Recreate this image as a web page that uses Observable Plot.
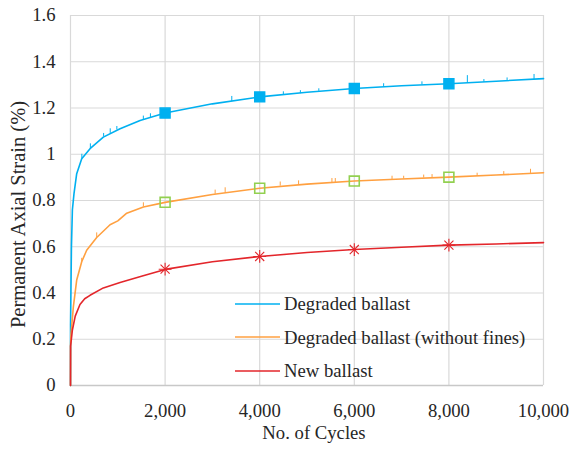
<!DOCTYPE html>
<html>
<head>
<meta charset="utf-8">
<script src="https://cdn.jsdelivr.net/npm/d3@7"></script>
<script src="https://cdn.jsdelivr.net/npm/@observablehq/plot@0.6"></script>
<style>
  html, body { margin: 0; padding: 0; background: #fff; }
  #wrap { position: relative; width: 571px; height: 451px; }
  #legend { position: absolute; left: 235px; top: 287px; font-family: "Liberation Serif", "Times New Roman", serif; font-size: 18.7px; line-height: 33.5px; color: #262626; }
  .row { display: flex; align-items: center; height: 33.5px; white-space: nowrap; }
  .row svg { margin-right: 4px; display: block; }
</style>
</head>
<body>
<div id="wrap"></div>
<script>
// ---- data ----
const xTicks = [0, 2000, 4000, 6000, 8000, 10000];
const yTicks = [0, 0.2, 0.4, 0.6, 0.8, 1, 1.2, 1.4, 1.6];
const seriesNames = ["Degraded ballast", "Degraded ballast (without fines)", "New ballast"];
const seriesColors = ["#00B0F0", "#FFA040", "#E3262B"];

const degraded = [
  [0,0],[1,0.26],[20,0.6],[40,0.76],[74,0.83],[131,0.916],[237,0.981],[413,1.024],[694,1.074],
  [1048,1.11],[1471,1.146],[2000,1.178],[3000,1.218],[4000,1.248],[5000,1.268],[6000,1.284],
  [7000,1.296],[8000,1.305],[9000,1.316],[10000,1.327]
];
const degradedNoFines = [
  [0,0],[1,0.17],[10,0.22],[25,0.254],[60,0.34],[131,0.456],[237,0.535],[342,0.585],[554,0.64],
  [836,0.695],[1000,0.712],[1189,0.745],[1541,0.772],[2000,0.792],[3000,0.826],[4000,0.853],
  [5000,0.871],[6000,0.884],[7000,0.893],[8000,0.901],[9000,0.91],[10000,0.92]
];
const newBallast = [
  [0,0],[2,0.17],[40,0.24],[100,0.3],[200,0.35],[300,0.375],[413,0.39],[694,0.422],[1048,0.445],
  [1500,0.472],[2000,0.502],[3000,0.535],[4000,0.558],[5000,0.575],[6000,0.588],[7000,0.598],
  [8000,0.607],[9000,0.612],[10000,0.618]
];

// marker points
const markerCycles = [2000, 4000, 6000, 8000];
const degradedMarks = [1.178, 1.248, 1.284, 1.305];
const noFinesMarks = [0.792, 0.853, 0.884, 0.901];
const newMarks = [0.503, 0.558, 0.588, 0.607];

// small spikes in the recorded signal: [cycle, base, top]
const degradedSpikes = [
  [240,0.98,1.0],[420,1.025,1.045],[700,1.075,1.09],[840,1.09,1.11],[980,1.105,1.12],
  [1540,1.15,1.165],[1690,1.158,1.175],[3410,1.228,1.25],[4500,1.255,1.27],[4860,1.262,1.275],
  [5250,1.272,1.283],[6620,1.29,1.305],[7430,1.3,1.313],[8390,1.306,1.34],[8740,1.311,1.323],
  [9230,1.317,1.33],[9800,1.322,1.345]
];
const noFinesSpikes = [
  [237,0.535,0.55],[554,0.64,0.66],[1541,0.772,0.79],[3058,0.827,0.845],[3270,0.833,0.855],
  [4434,0.862,0.88],[4822,0.868,0.885],[5527,0.877,0.895],[5598,0.878,0.895],[6798,0.891,0.905],
  [7044,0.893,0.905],[7467,0.897,0.91],[7644,0.898,0.912],[8597,0.906,0.918],[9160,0.911,0.925],
  [9725,0.917,0.935]
];

const toRows = (arr) => arr.map(([x, y]) => ({x, y}));
const spikeRows = (arr) => arr.map(([x, y1, y2]) => ({x, y1, y2}));
const markRows = (vals) => markerCycles.map((x, i) => ({x, y: vals[i]}));

const font = '"Liberation Serif", "Times New Roman", serif';
const ink = "#262626";
const gridColor = "#d9d9d9";

const chart = Plot.plot({
  width: 571,
  height: 451,
  marginLeft: 70,
  marginRight: 28,
  marginTop: 15,
  marginBottom: 66,
  style: {fontFamily: font, fontSize: "18.7px", color: ink, background: "#fff"},
  x: {domain: [0, 10000]},
  y: {domain: [0, 1.6]},
  marks: [
    Plot.gridX(xTicks, {stroke: gridColor, strokeOpacity: 1, strokeWidth: 1.2}),
    Plot.gridY(yTicks, {stroke: gridColor, strokeOpacity: 1, strokeWidth: 1.2}),
    Plot.ruleY([0], {stroke: "#c8c8c8", strokeWidth: 1.3}),
    Plot.axisX(xTicks, {tickSize: 0, tickPadding: 18, tickFormat: d3.format(","), label: null, fontSize: 18.7, fontFamily: font, fill: ink}),
    Plot.axisY(yTicks, {tickSize: 0, tickPadding: 15, tickFormat: d => String(+d.toFixed(1)), label: null, fontSize: 18.7, fontFamily: font, fill: ink}),
    Plot.text(["No. of Cycles"], {frameAnchor: "bottom", dy: 53, dx: 7, fontSize: 18.7, fontFamily: font, fill: ink}),
    Plot.text(["Permanent Axial Strain (%)"], {frameAnchor: "left", rotate: -90, textAnchor: "middle", dx: -52, dy: 14, fontSize: 20.5, fontFamily: font, fill: ink}),
    // series
    Plot.line(toRows(degraded), {x: "x", y: "y", stroke: seriesColors[0], strokeWidth: 1.6}),
    Plot.ruleX(spikeRows(degradedSpikes), {x: "x", y1: "y1", y2: "y2", stroke: seriesColors[0], strokeWidth: 1}),
    Plot.dot(markRows(degradedMarks), {x: "x", y: "y", symbol: "square", r: 5.6, fill: seriesColors[0], stroke: seriesColors[0]}),
    Plot.line(toRows(degradedNoFines), {x: "x", y: "y", stroke: seriesColors[1], strokeWidth: 1.6}),
    Plot.ruleX(spikeRows(noFinesSpikes), {x: "x", y1: "y1", y2: "y2", stroke: seriesColors[1], strokeWidth: 1}),
    Plot.dot(markRows(noFinesMarks), {x: "x", y: "y", symbol: "square", r: 5.6, fill: "none", stroke: "#92D050", strokeWidth: 1.6}),
    Plot.line(toRows(newBallast), {x: "x", y: "y", stroke: seriesColors[2], strokeWidth: 1.6}),
    Plot.dot(markRows(newMarks), {x: "x", y: "y", symbol: "plus", r: 4.2, stroke: seriesColors[2], strokeWidth: 1.1}),
    Plot.dot(markRows(newMarks), {x: "x", y: "y", symbol: "times", r: 4.2, stroke: seriesColors[2], strokeWidth: 1.1})
  ]
});

const wrap = document.getElementById("wrap");
wrap.appendChild(chart);
const legend = document.createElement("div");
legend.id = "legend";
const svgNS = "http://www.w3.org/2000/svg";
seriesNames.forEach((name, i) => {
  const row = document.createElement("div");
  row.className = "row";
  const sw = document.createElementNS(svgNS, "svg");
  sw.setAttribute("width", "45");
  sw.setAttribute("height", "4");
  const ln = document.createElementNS(svgNS, "line");
  ln.setAttribute("x1", "0"); ln.setAttribute("x2", "45");
  ln.setAttribute("y1", "2"); ln.setAttribute("y2", "2");
  ln.setAttribute("stroke", seriesColors[i]);
  ln.setAttribute("stroke-width", "1.6");
  sw.appendChild(ln);
  const t = document.createElement("span");
  t.textContent = name;
  row.appendChild(sw);
  row.appendChild(t);
  legend.appendChild(row);
});
wrap.appendChild(legend);
</script>
</body>
</html>
